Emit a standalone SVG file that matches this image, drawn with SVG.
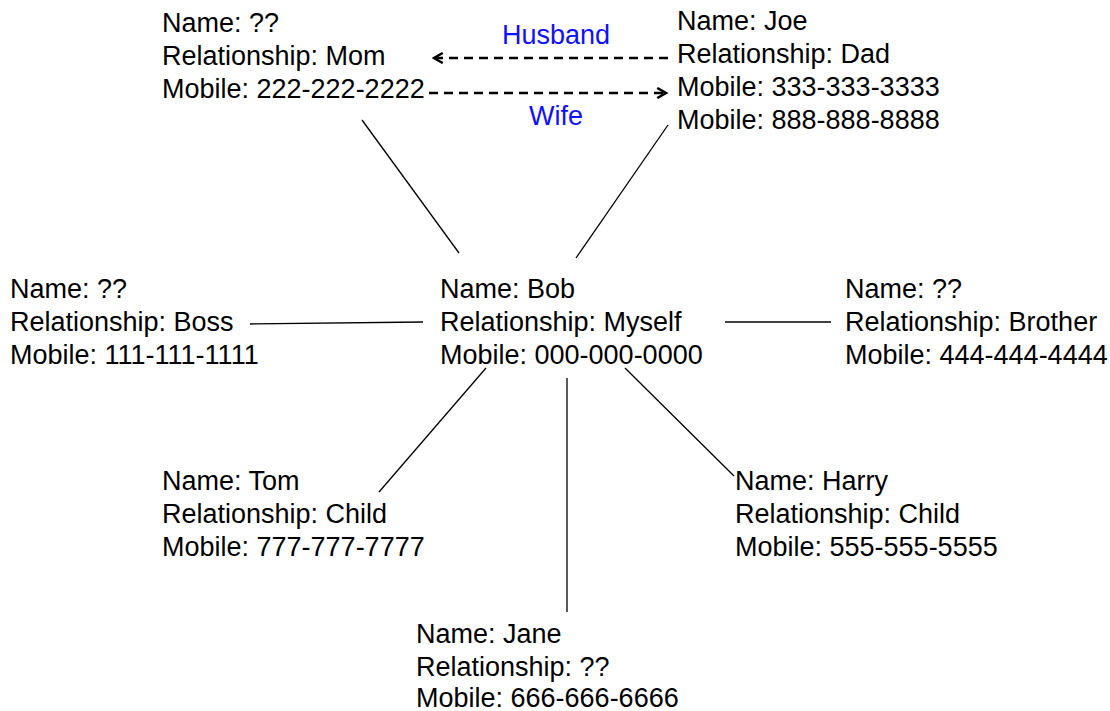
<svg xmlns="http://www.w3.org/2000/svg" width="1110" height="711" viewBox="0 0 1110 711">
<style>
text{font-family:"Liberation Sans",Arial,sans-serif;font-size:27px;fill:#000}
.lbl{fill:#1010ff;text-anchor:middle}
.ln{stroke:#000;stroke-width:1.3;fill:none}
.dash{stroke:#000;stroke-width:2.5;stroke-dasharray:9 6;fill:none}
</style>
<defs>
<marker id="ah" viewBox="0 0 10 10" refX="8" refY="5" markerWidth="5" markerHeight="5" orient="auto" markerUnits="strokeWidth">
<path d="M1,1 L8,5 L1,9" fill="none" stroke="#000" stroke-width="2"/>
</marker>
</defs>
<rect width="1110" height="711" fill="#fff"/>
<g id="connectors">
<line class="ln" x1="362" y1="120" x2="459" y2="253"/>
<line class="ln" x1="668" y1="125" x2="576" y2="258"/>
<line class="ln" x1="250" y1="324" x2="423" y2="322"/>
<line class="ln" x1="725" y1="322" x2="831" y2="322"/>
<line class="ln" x1="486" y1="368" x2="379" y2="492"/>
<line class="ln" x1="567" y1="378" x2="567" y2="612"/>
<line class="ln" x1="625" y1="368" x2="734" y2="476"/>
<line class="dash" x1="668" y1="58" x2="434" y2="58" marker-end="url(#ah)"/>
<line class="dash" x1="429" y1="93" x2="666" y2="93" marker-end="url(#ah)"/>
<text class="lbl" x="556" y="44">Husband</text>
<text class="lbl" x="556" y="125">Wife</text>
</g>
<g id="mom">
<text x="162" y="32">Name: ??</text>
<text x="162" y="65">Relationship: Mom</text>
<text x="162" y="98">Mobile: 222-222-2222</text>
</g>
<g id="joe">
<text x="677" y="30">Name: Joe</text>
<text x="677" y="63">Relationship: Dad</text>
<text x="677" y="96">Mobile: 333-333-3333</text>
<text x="677" y="129">Mobile: 888-888-8888</text>
</g>
<g id="boss">
<text x="10" y="298">Name: ??</text>
<text x="10" y="331">Relationship: Boss</text>
<text x="10" y="364">Mobile: 111-111-1111</text>
</g>
<g id="bob">
<text x="440" y="298">Name: Bob</text>
<text x="440" y="331">Relationship: Myself</text>
<text x="440" y="364">Mobile: 000-000-0000</text>
</g>
<g id="brother">
<text x="845" y="298">Name: ??</text>
<text x="845" y="331">Relationship: Brother</text>
<text x="845" y="364">Mobile: 444-444-4444</text>
</g>
<g id="tom">
<text x="162" y="490">Name: Tom</text>
<text x="162" y="523">Relationship: Child</text>
<text x="162" y="556">Mobile: 777-777-7777</text>
</g>
<g id="harry">
<text x="735" y="490">Name: Harry</text>
<text x="735" y="523">Relationship: Child</text>
<text x="735" y="556">Mobile: 555-555-5555</text>
</g>
<g id="jane">
<text x="416" y="643">Name: Jane</text>
<text x="416" y="676">Relationship: ??</text>
<text x="416" y="707">Mobile: 666-666-6666</text>
</g>
</svg>
